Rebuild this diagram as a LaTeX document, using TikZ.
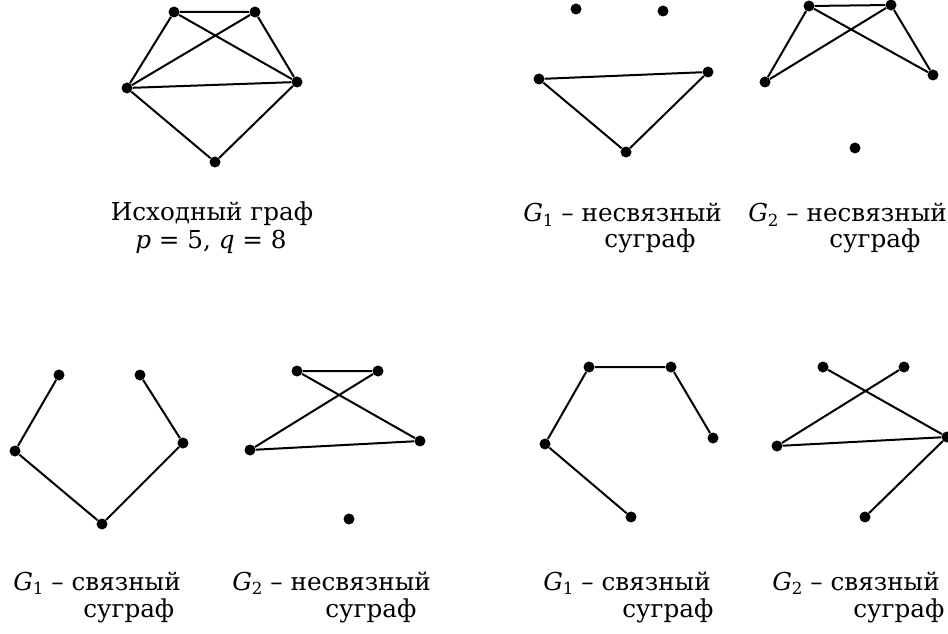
\documentclass[tikz,border=0pt]{standalone}
\usepackage{fontspec}
\setmainfont{DejaVu Serif}
\newcommand\gsub[2]{\textit{#1}\raisebox{-0.35ex}{\fontsize{12.5}{13}\selectfont #2}}
\begin{document}
\begin{tikzpicture}[x=0.75pt,y=-0.75pt,
  dot/.style={circle,fill=black,inner sep=0pt,minimum size=8.25pt},
  edge/.style={line width=1.5pt},
  lbl/.style={anchor=base west,inner sep=0pt,font=\fontsize{18.5}{22}\selectfont},
  lblc/.style={anchor=base,inner sep=0pt,font=\fontsize{18.5}{22}\selectfont}]
\useasboundingbox (0,0) rectangle (948,634);

% ---- original graph ----
\node[dot] (oa) at (174,12) {};
\node[dot] (ob) at (255,12) {};
\node[dot] (oc) at (127,88) {};
\node[dot] (od) at (297,82) {};
\node[dot] (oe) at (215,162) {};
\draw[edge] (oa)--(ob) (oa)--(oc) (oa)--(od) (ob)--(oc) (ob)--(od) (oc)--(od) (oc)--(oe) (od)--(oe);
\node[lblc] (t1) at (212,221) {Исходный граф};
\node[lblc] (t2) at (211,249) {\textit{p} = 5, \textit{q} = 8};

% ---- top right G1 (disconnected) ----
\node[dot] (pa) at (576,9) {};
\node[dot] (pb) at (663,11) {};
\node[dot] (pc) at (539,79) {};
\node[dot] (pd) at (708,72) {};
\node[dot] (pe) at (626,152) {};
\draw[edge] (pc)--(pd) (pc)--(pe) (pd)--(pe);
\node[lbl] (u1) at (523,222) {\gsub{G}{1} – несвязный};
\node[lbl] (u2) at (604,248) {суграф};

% ---- top right G2 (disconnected) ----
\node[dot] (qa) at (809,6) {};
\node[dot] (qb) at (891,5) {};
\node[dot] (qc) at (765,82) {};
\node[dot] (qd) at (933,75) {};
\node[dot] (qe) at (855,148) {};
\draw[edge] (qa)--(qb) (qa)--(qc) (qa)--(qd) (qb)--(qc) (qb)--(qd);
\node[lbl] (v1) at (748,222) {\gsub{G}{2} – несвязный};
\node[lbl] (v2) at (829,248) {суграф};

% ---- bottom left G1 (connected) ----
\node[dot] (ra) at (59,375) {};
\node[dot] (rb) at (140,375) {};
\node[dot] (rc) at (15,451) {};
\node[dot] (rd) at (183,443) {};
\node[dot] (re) at (102,524) {};
\draw[edge] (ra)--(rc) (rb)--(rd) (rc)--(re) (rd)--(re);
\node[lbl] (w1) at (13,590) {\gsub{G}{1} – связный};
\node[lbl] (w2) at (83,617) {суграф};

% ---- bottom left G2 (disconnected) ----
\node[dot] (sa) at (297,371) {};
\node[dot] (sb) at (378,371) {};
\node[dot] (sc) at (250,450) {};
\node[dot] (sd) at (420,441) {};
\node[dot] (se) at (349,519) {};
\draw[edge] (sa)--(sb) (sa)--(sd) (sb)--(sc) (sc)--(sd);
\node[lbl] (x1) at (232,590) {\gsub{G}{2} – несвязный};
\node[lbl] (x2) at (325,617) {суграф};

% ---- bottom right G1 (connected) ----
\node[dot] (ya) at (589,367) {};
\node[dot] (yb) at (671,367) {};
\node[dot] (yc) at (545,444) {};
\node[dot] (yd) at (713,438) {};
\node[dot] (ye) at (631,517) {};
\draw[edge] (ya)--(yb) (ya)--(yc) (yb)--(yd) (yc)--(ye);
\node[lbl] (y1) at (543,590) {\gsub{G}{1} – связный};
\node[lbl] (y2) at (622,617) {суграф};

% ---- bottom right G2 (connected) ----
\node[dot] (za) at (823,367) {};
\node[dot] (zb) at (904,367) {};
\node[dot] (zc) at (777,446) {};
\node[dot] (zd) at (947,437) {};
\node[dot] (ze) at (865,517) {};
\draw[edge] (za)--(zd) (zb)--(zc) (zc)--(zd) (zd)--(ze);
\node[lbl] (z1) at (772,590) {\gsub{G}{2} – связный};
\node[lbl] (z2) at (853,617) {суграф};
\end{tikzpicture}
\end{document}
